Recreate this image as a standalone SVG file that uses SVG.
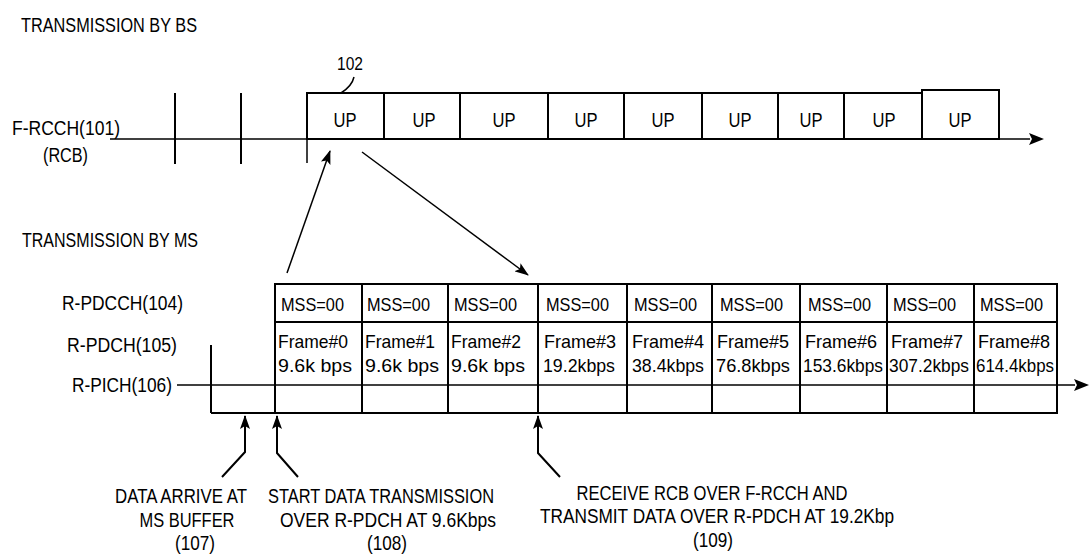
<svg xmlns="http://www.w3.org/2000/svg" width="1090" height="557" viewBox="0 0 1090 557">
<style>
  text { font-family: "Liberation Sans", Arial, sans-serif; font-size: 20px; fill: #000; }
  .c { font-size: 19px; }
  .up { font-size: 20px; }
  .ln { stroke: #000; stroke-width: 2; fill: none; }
  .thin { stroke: #000; stroke-width: 1.5; fill: none; }
  .box { stroke: #000; stroke-width: 2; fill: #fff; }
</style>
<defs>
  <marker id="ah" viewBox="0 0 14 10" refX="13" refY="5" markerWidth="14" markerHeight="10" markerUnits="userSpaceOnUse" orient="auto">
    <path d="M0,0 L14,5 L0,10 L3,5 Z" fill="#000"/>
  </marker>
</defs>
<rect width="1090" height="557" fill="#fff"/>

<g id="title-bs"><text x="21" y="32" textLength="176" lengthAdjust="spacingAndGlyphs">TRANSMISSION BY BS</text></g>
<g id="title-ms"><text x="22" y="247" textLength="176" lengthAdjust="spacingAndGlyphs">TRANSMISSION BY MS</text></g>

<g id="f-rcch-label">
  <text x="12" y="135" textLength="108" lengthAdjust="spacingAndGlyphs">F-RCCH(101)</text>
  <text x="43" y="162" textLength="45" lengthAdjust="spacingAndGlyphs">(RCB)</text>
</g>

<g id="f-rcch-axis">
  <line class="thin" x1="110" y1="139" x2="1030" y2="139"/>
  <path d="M1044,139 L1029,133 L1032,139 L1029,145 Z" fill="#000"/>
  <line class="ln" x1="175" y1="93" x2="175" y2="164"/>
  <line class="ln" x1="241" y1="93" x2="241" y2="164"/>
  <line class="thin" x1="307" y1="139" x2="307" y2="163"/>
</g>

<g id="label-102">
  <text x="337" y="70" textLength="26" lengthAdjust="spacingAndGlyphs" class="c">102</text>
  <path class="thin" d="M354,77 Q352,86 341,93"/>
</g>

<g id="up-boxes">
  <rect class="box" x="307" y="93" width="77" height="46"/>
  <rect class="box" x="384" y="93" width="76" height="46"/>
  <rect class="box" x="460" y="93" width="88" height="46"/>
  <rect class="box" x="548" y="93" width="76" height="46"/>
  <rect class="box" x="624" y="93" width="78" height="46"/>
  <rect class="box" x="702" y="93" width="76" height="46"/>
  <rect class="box" x="778" y="93" width="66" height="46"/>
  <rect class="box" x="844" y="93" width="78" height="46"/>
  <rect class="box" x="922" y="90" width="77" height="49"/>
  <g text-anchor="middle">
    <text class="up" x="345" y="127" textLength="23" lengthAdjust="spacingAndGlyphs">UP</text>
    <text class="up" x="424" y="127" textLength="23" lengthAdjust="spacingAndGlyphs">UP</text>
    <text class="up" x="504" y="127" textLength="23" lengthAdjust="spacingAndGlyphs">UP</text>
    <text class="up" x="586" y="127" textLength="23" lengthAdjust="spacingAndGlyphs">UP</text>
    <text class="up" x="663" y="127" textLength="23" lengthAdjust="spacingAndGlyphs">UP</text>
    <text class="up" x="740" y="127" textLength="23" lengthAdjust="spacingAndGlyphs">UP</text>
    <text class="up" x="811" y="127" textLength="23" lengthAdjust="spacingAndGlyphs">UP</text>
    <text class="up" x="884" y="127" textLength="23" lengthAdjust="spacingAndGlyphs">UP</text>
    <text class="up" x="960" y="127" textLength="23" lengthAdjust="spacingAndGlyphs">UP</text>
  </g>
</g>

<g id="ms-labels">
  <text x="62" y="310" textLength="121" lengthAdjust="spacingAndGlyphs">R-PDCCH(104)</text>
  <text x="67" y="352" textLength="110" lengthAdjust="spacingAndGlyphs">R-PDCH(105)</text>
  <text x="72" y="392" textLength="100" lengthAdjust="spacingAndGlyphs">R-PICH(106)</text>
</g>

<g id="ms-table">
  <rect class="ln" x="275" y="284" width="782" height="129" stroke-width="2.5"/>
  <line class="ln" x1="275" y1="322" x2="1057" y2="322"/>
  <line class="ln" x1="211" y1="413" x2="275" y2="413"/>
  <line class="ln" x1="211" y1="345" x2="211" y2="413"/>
  <line class="ln" x1="362" y1="284" x2="362" y2="413"/>
  <line class="ln" x1="448" y1="284" x2="448" y2="413"/>
  <line class="ln" x1="538" y1="284" x2="538" y2="413"/>
  <line class="ln" x1="627" y1="284" x2="627" y2="413"/>
  <line class="ln" x1="712" y1="284" x2="712" y2="413"/>
  <line class="ln" x1="800" y1="284" x2="800" y2="413"/>
  <line class="ln" x1="887" y1="284" x2="887" y2="413"/>
  <line class="ln" x1="974" y1="284" x2="974" y2="413"/>
</g>

<g id="mss-row">
  <text class="c" x="281" y="311" textLength="63" lengthAdjust="spacingAndGlyphs">MSS=00</text>
  <text class="c" x="367" y="311" textLength="63" lengthAdjust="spacingAndGlyphs">MSS=00</text>
  <text class="c" x="454" y="311" textLength="63" lengthAdjust="spacingAndGlyphs">MSS=00</text>
  <text class="c" x="546" y="311" textLength="63" lengthAdjust="spacingAndGlyphs">MSS=00</text>
  <text class="c" x="634" y="311" textLength="63" lengthAdjust="spacingAndGlyphs">MSS=00</text>
  <text class="c" x="720" y="311" textLength="63" lengthAdjust="spacingAndGlyphs">MSS=00</text>
  <text class="c" x="808" y="311" textLength="63" lengthAdjust="spacingAndGlyphs">MSS=00</text>
  <text class="c" x="893" y="311" textLength="63" lengthAdjust="spacingAndGlyphs">MSS=00</text>
  <text class="c" x="980" y="311" textLength="63" lengthAdjust="spacingAndGlyphs">MSS=00</text>
</g>

<g id="frame-row">
  <text class="c" x="278" y="348" textLength="70" lengthAdjust="spacingAndGlyphs">Frame#0</text>
  <text class="c" x="365" y="348" textLength="70" lengthAdjust="spacingAndGlyphs">Frame#1</text>
  <text class="c" x="451" y="348" textLength="70" lengthAdjust="spacingAndGlyphs">Frame#2</text>
  <text class="c" x="544" y="348" textLength="72" lengthAdjust="spacingAndGlyphs">Frame#3</text>
  <text class="c" x="632" y="348" textLength="72" lengthAdjust="spacingAndGlyphs">Frame#4</text>
  <text class="c" x="717" y="348" textLength="72" lengthAdjust="spacingAndGlyphs">Frame#5</text>
  <text class="c" x="805" y="348" textLength="72" lengthAdjust="spacingAndGlyphs">Frame#6</text>
  <text class="c" x="891" y="348" textLength="72" lengthAdjust="spacingAndGlyphs">Frame#7</text>
  <text class="c" x="978" y="348" textLength="72" lengthAdjust="spacingAndGlyphs">Frame#8</text>
  <text class="c" x="278" y="372" textLength="74" lengthAdjust="spacingAndGlyphs">9.6k bps</text>
  <text class="c" x="365" y="372" textLength="74" lengthAdjust="spacingAndGlyphs">9.6k bps</text>
  <text class="c" x="451" y="372" textLength="74" lengthAdjust="spacingAndGlyphs">9.6k bps</text>
  <text class="c" x="543" y="372" textLength="72" lengthAdjust="spacingAndGlyphs">19.2kbps</text>
  <text class="c" x="632" y="372" textLength="72" lengthAdjust="spacingAndGlyphs">38.4kbps</text>
  <text class="c" x="716" y="372" textLength="74" lengthAdjust="spacingAndGlyphs">76.8kbps</text>
  <text class="c" x="803" y="372" textLength="80" lengthAdjust="spacingAndGlyphs">153.6kbps</text>
  <text class="c" x="889" y="372" textLength="80" lengthAdjust="spacingAndGlyphs">307.2kbps</text>
  <text class="c" x="976" y="372" textLength="78" lengthAdjust="spacingAndGlyphs">614.4kbps</text>
</g>

<g id="r-pich-axis">
  <line class="thin" x1="177" y1="385" x2="1075" y2="385"/>
  <path d="M1089,385 L1074,379 L1077,385 L1074,391 Z" fill="#000"/>
</g>

<g id="note-107" text-anchor="middle">
  <text x="181" y="503" textLength="132" lengthAdjust="spacingAndGlyphs">DATA ARRIVE AT</text>
  <text x="187" y="527" textLength="95" lengthAdjust="spacingAndGlyphs">MS BUFFER</text>
  <text x="195" y="550" textLength="40" lengthAdjust="spacingAndGlyphs">(107)</text>
</g>
<g id="note-108" text-anchor="middle">
  <text x="381" y="503" textLength="226" lengthAdjust="spacingAndGlyphs">START DATA TRANSMISSION</text>
  <text x="388" y="527" textLength="216" lengthAdjust="spacingAndGlyphs">OVER R-PDCH AT 9.6Kbps</text>
  <text x="387" y="550" textLength="40" lengthAdjust="spacingAndGlyphs">(108)</text>
</g>
<g id="note-109" text-anchor="middle">
  <text x="712" y="500" textLength="271" lengthAdjust="spacingAndGlyphs">RECEIVE RCB OVER F-RCCH AND</text>
  <text x="717" y="523" textLength="354" lengthAdjust="spacingAndGlyphs">TRANSMIT DATA OVER R-PDCH AT 19.2Kbp</text>
  <text x="713" y="547" textLength="40" lengthAdjust="spacingAndGlyphs">(109)</text>
</g>

<g id="connectors">
  <line class="thin" x1="287" y1="273" x2="330" y2="151" marker-end="url(#ah)"/>
  <line class="thin" x1="362" y1="152" x2="528" y2="275" marker-end="url(#ah)"/>
  <polyline class="ln" points="222,477 245,452 245,416" marker-end="url(#ah)"/>
  <polyline class="ln" points="298,477 277,453 277,416" marker-end="url(#ah)"/>
  <polyline class="ln" points="560,477 538,453 538,416" marker-end="url(#ah)"/>
</g>
</svg>
